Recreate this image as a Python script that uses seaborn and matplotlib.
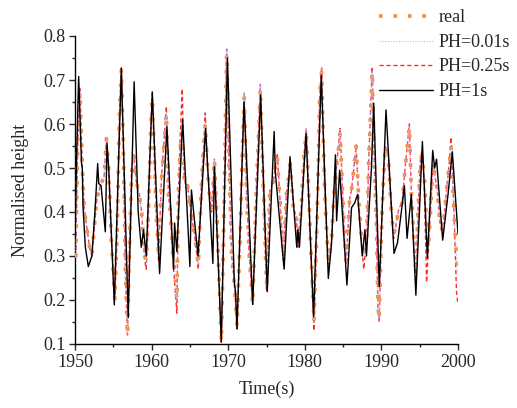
import matplotlib
matplotlib.use("Agg")
import matplotlib.pyplot as plt
import seaborn as sns
from matplotlib.ticker import MultipleLocator

# ---------------- data ----------------
t_real = [1950.0, 1950.1, 1950.35, 1950.65, 1951.0, 1951.2, 1951.5, 1951.9, 1952.2, 1952.6,
          1952.85, 1953.3, 1953.8, 1954.1, 1954.4, 1954.7, 1955.2, 1955.5, 1955.8, 1956.05,
          1956.3, 1956.6, 1956.85, 1957.15, 1957.4, 1957.7, 1958.0, 1958.4, 1958.7, 1959.1,
          1959.3, 1959.6, 1959.9, 1960.1, 1960.4, 1960.6, 1960.9, 1961.3, 1961.93, 1962.2,
          1962.45, 1962.75, 1963.1, 1963.3, 1963.5, 1963.75, 1964.0, 1964.25, 1964.5, 1964.7,
          1965.2, 1965.6, 1966.1, 1966.5, 1966.8, 1967.0, 1967.3, 1967.6, 1967.85, 1968.2,
          1968.5, 1968.8, 1969.1, 1969.4, 1969.65, 1969.8, 1970.1, 1970.45, 1970.7, 1970.9,
          1971.15, 1971.55, 1971.85, 1972.1, 1972.4, 1972.75, 1973.2, 1973.6, 1974.2, 1974.5,
          1975.0, 1975.45, 1975.9, 1976.4, 1976.75, 1977.0, 1977.2, 1977.6, 1978.1, 1978.5,
          1978.9, 1979.1, 1979.5, 1979.9, 1980.2, 1980.55, 1980.8, 1981.2, 1981.6, 1981.95,
          1982.2, 1982.6, 1983.07, 1983.5, 1983.8, 1984.6, 1984.95, 1985.2, 1985.4, 1985.85,
          1986.1, 1986.7, 1987.1, 1987.35, 1987.7, 1988.1, 1988.35, 1988.6, 1988.8, 1989.1,
          1989.35, 1989.55, 1989.7, 1990.1, 1990.5, 1990.9, 1991.25, 1991.6, 1991.9, 1992.3,
          1992.7, 1993.1, 1993.65, 1993.9, 1994.2, 1994.5, 1994.8, 1995.1, 1995.3, 1995.6,
          1995.9, 1996.2, 1996.5, 1996.75, 1997.0, 1997.3, 1997.6, 1997.9, 1998.2, 1998.5,
          1998.8, 1999.1, 1999.5, 1999.8, 2000.0]

real = [0.30, 0.30, 0.55, 0.673, 0.48, 0.41, 0.367, 0.32, 0.30, 0.38,
        0.43, 0.46, 0.48, 0.567, 0.50, 0.35, 0.20, 0.35, 0.62, 0.725,
        0.55, 0.25, 0.12, 0.35, 0.49, 0.526, 0.47, 0.44, 0.40, 0.30,
        0.29, 0.40, 0.60, 0.66, 0.50, 0.40, 0.30, 0.475, 0.624, 0.44,
        0.40, 0.31, 0.25, 0.20, 0.45, 0.55, 0.58, 0.48, 0.455, 0.46,
        0.39, 0.35, 0.28, 0.46, 0.55, 0.60, 0.50, 0.43, 0.405, 0.52,
        0.40, 0.25, 0.105, 0.35, 0.62, 0.76, 0.51, 0.30, 0.26, 0.21,
        0.14, 0.34, 0.54, 0.66, 0.44, 0.30, 0.19, 0.42, 0.68, 0.50,
        0.235, 0.45, 0.47, 0.526, 0.43, 0.36, 0.30, 0.44, 0.51, 0.41,
        0.39, 0.34, 0.40, 0.53, 0.58, 0.43, 0.31, 0.15, 0.38, 0.67,
        0.72, 0.44, 0.29, 0.34, 0.44, 0.58, 0.44, 0.34, 0.29, 0.43,
        0.45, 0.55, 0.41, 0.35, 0.30, 0.35, 0.52, 0.63, 0.72, 0.50,
        0.37, 0.19, 0.155, 0.41, 0.55, 0.53, 0.41, 0.35, 0.37, 0.41,
        0.42, 0.50, 0.594, 0.45, 0.35, 0.27, 0.41, 0.52, 0.53, 0.48,
        0.38, 0.336, 0.43, 0.51, 0.48, 0.45, 0.38, 0.36, 0.39, 0.45,
        0.50, 0.55, 0.39, 0.30, 0.26]

ph001 = [0.30, 0.30, 0.55, 0.675, 0.48, 0.41, 0.367, 0.32, 0.30, 0.38,
         0.43, 0.46, 0.48, 0.567, 0.50, 0.35, 0.20, 0.35, 0.62, 0.73,
         0.55, 0.25, 0.12, 0.35, 0.49, 0.526, 0.47, 0.44, 0.40, 0.30,
         0.29, 0.40, 0.60, 0.66, 0.50, 0.40, 0.30, 0.475, 0.624, 0.44,
         0.40, 0.31, 0.25, 0.20, 0.45, 0.55, 0.58, 0.48, 0.455, 0.46,
         0.39, 0.35, 0.28, 0.46, 0.55, 0.60, 0.50, 0.43, 0.405, 0.52,
         0.40, 0.25, 0.105, 0.35, 0.62, 0.77, 0.51, 0.30, 0.26, 0.21,
         0.14, 0.34, 0.54, 0.67, 0.44, 0.30, 0.19, 0.42, 0.69, 0.50,
         0.235, 0.45, 0.47, 0.526, 0.43, 0.36, 0.30, 0.44, 0.51, 0.41,
         0.39, 0.34, 0.40, 0.53, 0.59, 0.43, 0.31, 0.15, 0.38, 0.67,
         0.73, 0.44, 0.29, 0.34, 0.44, 0.59, 0.44, 0.34, 0.29, 0.43,
         0.45, 0.55, 0.41, 0.35, 0.30, 0.35, 0.52, 0.63, 0.72, 0.50,
         0.37, 0.19, 0.155, 0.41, 0.55, 0.53, 0.41, 0.35, 0.37, 0.41,
         0.42, 0.50, 0.594, 0.45, 0.35, 0.27, 0.41, 0.52, 0.53, 0.48,
         0.38, 0.336, 0.43, 0.51, 0.48, 0.45, 0.38, 0.36, 0.39, 0.45,
         0.50, 0.55, 0.39, 0.30, 0.26]

ph025 = [0.30, 0.30, 0.55, 0.68, 0.48, 0.41, 0.37, 0.32, 0.30, 0.38,
         0.43, 0.46, 0.48, 0.57, 0.50, 0.35, 0.20, 0.35, 0.62, 0.73,
         0.55, 0.25, 0.12, 0.35, 0.50, 0.53, 0.47, 0.44, 0.40, 0.29,
         0.27, 0.40, 0.60, 0.67, 0.50, 0.40, 0.29, 0.48, 0.64, 0.44,
         0.40, 0.30, 0.22, 0.17, 0.45, 0.58, 0.68, 0.48, 0.455, 0.46,
         0.39, 0.35, 0.27, 0.46, 0.55, 0.625, 0.50, 0.43, 0.40, 0.52,
         0.40, 0.25, 0.10, 0.35, 0.62, 0.77, 0.51, 0.30, 0.26, 0.21,
         0.13, 0.34, 0.54, 0.67, 0.44, 0.30, 0.19, 0.42, 0.69, 0.50,
         0.22, 0.45, 0.47, 0.533, 0.43, 0.36, 0.29, 0.44, 0.51, 0.41,
         0.39, 0.32, 0.40, 0.53, 0.59, 0.43, 0.30, 0.13, 0.38, 0.67,
         0.73, 0.44, 0.28, 0.34, 0.44, 0.59, 0.44, 0.33, 0.28, 0.43,
         0.45, 0.55, 0.41, 0.34, 0.27, 0.35, 0.52, 0.64, 0.73, 0.50,
         0.37, 0.18, 0.15, 0.41, 0.55, 0.53, 0.41, 0.34, 0.37, 0.41,
         0.42, 0.50, 0.60, 0.45, 0.33, 0.25, 0.41, 0.52, 0.54, 0.46,
         0.24, 0.336, 0.43, 0.51, 0.48, 0.45, 0.38, 0.36, 0.39, 0.45,
         0.50, 0.57, 0.39, 0.22, 0.19]

t_ph1 = [1950.0, 1950.2, 1950.48, 1950.85, 1950.95, 1951.05, 1951.35, 1951.74, 1952.2, 1952.6,
         1952.96, 1953.1, 1953.4, 1953.96, 1954.18, 1954.4, 1955.13, 1956.05, 1956.95, 1957.72,
         1958.25, 1958.65, 1958.95, 1959.3, 1960.09, 1961.04, 1962.0, 1962.2, 1962.87, 1963.0,
         1963.3, 1964.05, 1965.0, 1965.2, 1966.06, 1967.05, 1968.0, 1968.2, 1969.1, 1969.9,
         1970.8, 1970.95, 1971.15, 1972.06, 1972.2, 1973.2, 1974.24, 1975.1, 1976.0, 1976.15,
         1977.3, 1978.07, 1978.95, 1979.1, 1979.3, 1980.16, 1981.15, 1982.15, 1983.07, 1983.5,
         1984.0, 1984.15, 1984.55, 1985.5, 1986.1, 1986.5, 1986.9, 1987.5, 1987.85, 1988.05,
         1988.7, 1989.0, 1989.72, 1990.6, 1991.65, 1992.1, 1992.6, 1993.0, 1993.35, 1993.9,
         1994.5, 1995.35, 1996.0, 1996.7, 1996.95, 1997.2, 1998.0, 1998.7, 1999.26, 2000.0]

ph1 = [0.33, 0.52, 0.708, 0.51, 0.50, 0.41, 0.32, 0.276, 0.30, 0.40,
       0.51, 0.465, 0.46, 0.355, 0.556, 0.50, 0.189, 0.727, 0.16, 0.696,
       0.40, 0.32, 0.36, 0.30, 0.673, 0.26, 0.594, 0.52, 0.27, 0.375,
       0.31, 0.61, 0.276, 0.45, 0.30, 0.59, 0.283, 0.503, 0.105, 0.75,
       0.24, 0.22, 0.135, 0.65, 0.60, 0.19, 0.666, 0.219, 0.583, 0.49,
       0.27, 0.526, 0.32, 0.36, 0.32, 0.579, 0.162, 0.711, 0.249, 0.33,
       0.53, 0.38, 0.495, 0.234, 0.41, 0.42, 0.44, 0.30, 0.36, 0.30,
       0.50, 0.647, 0.23, 0.632, 0.306, 0.33, 0.40, 0.46, 0.34, 0.44,
       0.211, 0.56, 0.295, 0.54, 0.50, 0.52, 0.336, 0.44, 0.537, 0.35]

labels = ["real", "PH=0.01s", "PH=0.25s", "PH=1s"]
x_ticks = [1950, 1960, 1970, 1980, 1990, 2000]
y_ticks = [0.1, 0.2, 0.3, 0.4, 0.5, 0.6, 0.7, 0.8]

# ---------------- style ----------------
sns.set_style("ticks")
plt.rcParams["font.family"] = ["Liberation Serif", "DejaVu Serif"]
plt.rcParams["font.size"] = 13
plt.rcParams["xtick.direction"] = "out"
plt.rcParams["ytick.direction"] = "out"

fig = plt.figure(figsize=(5.17, 4.08), dpi=100)
ax = fig.add_axes([75 / 517, 1 - 344 / 408, (458 - 75) / 517, (344 - 36) / 408])

sns.lineplot(x=t_real, y=ph025, ax=ax, color="#ff2a2a", lw=1.0,
             linestyle=(0, (3, 2)), label=labels[2], zorder=2, sort=False)
sns.lineplot(x=t_real, y=real, ax=ax, color="#f48a3c", lw=2.6,
             linestyle=(0, (1, 3)), label=labels[0], zorder=3, sort=False)
sns.lineplot(x=t_real, y=ph001, ax=ax, color="#b8b8ff", lw=0.8,
             linestyle=(0, (1, 1.5)), label=labels[1], zorder=3.5, sort=False)
sns.lineplot(x=t_ph1, y=ph1, ax=ax, color="black", lw=1.0,
             linestyle="-", label=labels[3], zorder=4, sort=False)

ax.set_xlim(1950, 2000)
ax.set_ylim(0.1, 0.8)
ax.set_xticks(x_ticks)
ax.set_yticks(y_ticks)
ax.set_yticklabels([f"{v:.1f}" for v in y_ticks])
ax.xaxis.set_minor_locator(MultipleLocator(5))
ax.yaxis.set_minor_locator(MultipleLocator(0.05))
ax.tick_params(which="major", length=4, width=1, labelsize=13, pad=3)
ax.tick_params(which="minor", length=2.5, width=1)
ax.set_xlabel("Time(s)", fontsize=13, labelpad=7)
ax.set_ylabel("Normalised height", fontsize=13, labelpad=10)
sns.despine(ax=ax)
for s in ["left", "bottom"]:
    ax.spines[s].set_linewidth(1.0)
    ax.spines[s].set_color("black")

handles, labs = ax.get_legend_handles_labels()
order = [labs.index(l) for l in labels]
ax.get_legend().remove()
fig.legend([handles[i] for i in order], labels, loc="upper left",
           bbox_to_anchor=(372 / 517, 0.995), frameon=False, fontsize=13,
           handlelength=3.0, handletextpad=0.3, labelspacing=0.42,
           borderaxespad=0.0)

fig.savefig("out.png", dpi=100)
